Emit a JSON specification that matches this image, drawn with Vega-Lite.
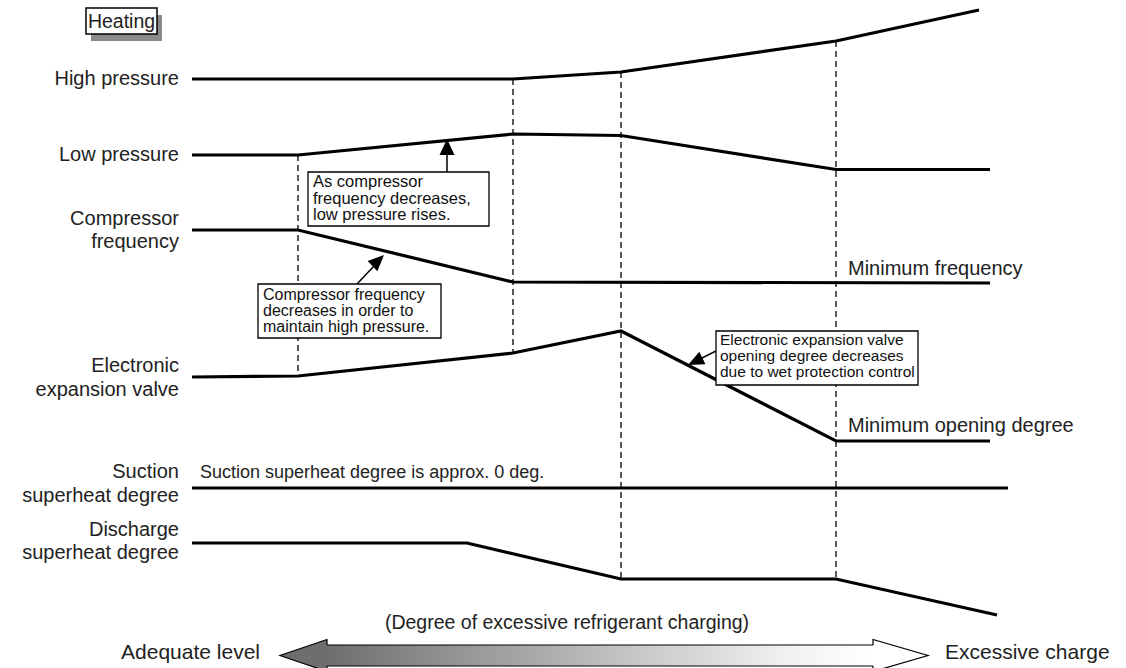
{
  "$schema": "https://vega.github.io/schema/vega-lite/v6.json",
  "width": 1126,
  "height": 668,
  "padding": 0,
  "autosize": {"type": "none"},
  "config": {"view": {"stroke": null}, "text": {"font": "Liberation Sans", "fontSize": 20, "color": "#222"}},
  "datasets": {
    "curves": [
      {"series": "High pressure", "order": 1, "x": 192, "y": 79},
      {"series": "High pressure", "order": 2, "x": 513, "y": 79},
      {"series": "High pressure", "order": 3, "x": 621, "y": 72},
      {"series": "High pressure", "order": 4, "x": 836, "y": 41},
      {"series": "High pressure", "order": 5, "x": 979, "y": 10},
      {"series": "Low pressure", "order": 1, "x": 192, "y": 155},
      {"series": "Low pressure", "order": 2, "x": 298, "y": 155},
      {"series": "Low pressure", "order": 3, "x": 513, "y": 134},
      {"series": "Low pressure", "order": 4, "x": 621, "y": 135.5},
      {"series": "Low pressure", "order": 5, "x": 836, "y": 169.5},
      {"series": "Low pressure", "order": 6, "x": 990, "y": 169.5},
      {"series": "Compressor frequency", "order": 1, "x": 192, "y": 230},
      {"series": "Compressor frequency", "order": 2, "x": 298, "y": 230},
      {"series": "Compressor frequency", "order": 3, "x": 513, "y": 282},
      {"series": "Compressor frequency", "order": 4, "x": 990, "y": 283},
      {"series": "Electronic expansion valve", "order": 1, "x": 192, "y": 377},
      {"series": "Electronic expansion valve", "order": 2, "x": 298, "y": 376},
      {"series": "Electronic expansion valve", "order": 3, "x": 513, "y": 353},
      {"series": "Electronic expansion valve", "order": 4, "x": 621, "y": 331},
      {"series": "Electronic expansion valve", "order": 5, "x": 836, "y": 441},
      {"series": "Electronic expansion valve", "order": 6, "x": 990, "y": 441},
      {"series": "Suction superheat degree", "order": 1, "x": 192, "y": 488},
      {"series": "Suction superheat degree", "order": 2, "x": 1008, "y": 488},
      {"series": "Discharge superheat degree", "order": 1, "x": 192, "y": 543},
      {"series": "Discharge superheat degree", "order": 2, "x": 467, "y": 543},
      {"series": "Discharge superheat degree", "order": 3, "x": 621, "y": 579},
      {"series": "Discharge superheat degree", "order": 4, "x": 836, "y": 579},
      {"series": "Discharge superheat degree", "order": 5, "x": 997, "y": 615}
    ],
    "dashes": [
      {"x": 298, "y": 155, "y2": 377},
      {"x": 513, "y": 79, "y2": 353},
      {"x": 621, "y": 72, "y2": 579},
      {"x": 836, "y": 41, "y2": 579}
    ],
    "rightLabels": [
      {"label": "High pressure", "x": 179, "y": 85},
      {"label": "Low pressure", "x": 179, "y": 161},
      {"label": "Compressor", "x": 179, "y": 225},
      {"label": "frequency", "x": 179, "y": 248},
      {"label": "Electronic", "x": 179, "y": 372},
      {"label": "expansion valve", "x": 179, "y": 396},
      {"label": "Suction", "x": 179, "y": 478},
      {"label": "superheat degree", "x": 179, "y": 502},
      {"label": "Discharge", "x": 179, "y": 536},
      {"label": "superheat degree", "x": 179, "y": 559}
    ],
    "leftLabels": [
      {"label": "Minimum frequency", "x": 848, "y": 275},
      {"label": "Minimum opening degree", "x": 848, "y": 432}
    ],
    "noteLabels": [
      {"label": "Suction superheat degree is approx. 0 deg.", "x": 200, "y": 478}
    ],
    "bottomLeft": [
      {"label": "Adequate level", "x": 260, "y": 659}
    ],
    "bottomRight": [
      {"label": "Excessive charge", "x": 945, "y": 659}
    ],
    "centerLabels": [
      {"label": "(Degree of excessive refrigerant charging)", "x": 567, "y": 629}
    ],
    "boxes": [
      {"box": "low pressure note", "x": 308, "x2": 489, "y": 172, "y2": 226},
      {"box": "frequency note", "x": 258, "x2": 441, "y": 284, "y2": 338},
      {"box": "valve note", "x": 716, "x2": 918, "y": 331, "y2": 385}
    ],
    "shafts": [
      {"arrow": "low pressure note", "x": 447, "y": 154, "x2": 447, "y2": 172},
      {"arrow": "frequency note", "x": 357, "y": 284, "x2": 374, "y2": 266},
      {"arrow": "valve note", "x": 716, "y": 351, "x2": 700, "y2": 359}
    ],
    "heating": [
      {"label": "Heating", "x": 86, "x2": 157, "y": 8, "y2": 34}
    ],
    "bigArrow": [
      {"x": 327, "x2": 873, "y": 645, "y2": 666}
    ],
    "bigArrowEdges": [
      {"x": 327, "x2": 873, "y": 645},
      {"x": 327, "x2": 873, "y": 666}
    ]
  },
  "encoding": {
    "x": {"field": "x", "type": "quantitative", "scale": {"domain": [0, 1126], "nice": false, "zero": false}, "axis": null},
    "y": {"field": "y", "type": "quantitative", "scale": {"domain": [0, 668], "nice": false, "zero": false, "reverse": true}, "axis": null}
  },
  "layer": [
    {
      "data": {"name": "heating"},
      "transform": [{"calculate": "datum.x + 5", "as": "sx"}, {"calculate": "datum.x2 + 5", "as": "sx2"}, {"calculate": "datum.y + 7", "as": "sy"}, {"calculate": "datum.y2 + 7", "as": "sy2"}],
      "mark": {"type": "rect", "fill": "#8a8a8a"},
      "encoding": {"x": {"field": "sx", "type": "quantitative"}, "x2": {"field": "sx2"}, "y": {"field": "sy", "type": "quantitative"}, "y2": {"field": "sy2"}}
    },
    {
      "data": {"name": "heating"},
      "mark": {"type": "rect", "fill": "white", "stroke": "black", "strokeWidth": 1.5},
      "encoding": {"x2": {"field": "x2"}, "y2": {"field": "y2"}}
    },
    {
      "data": {"name": "heating"},
      "mark": {"type": "text", "align": "center", "baseline": "middle", "color": "#222", "fontSize": 19.5, "dy": 1},
      "encoding": {"x": {"field": "x", "type": "quantitative"}, "text": {"field": "label"}},
      "transform": [{"calculate": "(datum.x + datum.x2) / 2", "as": "x"}, {"calculate": "(datum.y + datum.y2) / 2", "as": "y"}]
    },
    {
      "data": {"name": "dashes"},
      "mark": {"type": "rule", "color": "black", "strokeWidth": 1.3, "strokeDash": [6, 4]},
      "encoding": {"y2": {"field": "y2"}}
    },
    {
      "data": {"name": "curves"},
      "mark": {"type": "line", "color": "black", "strokeWidth": 3.2},
      "encoding": {"detail": {"field": "series"}, "order": {"field": "order", "type": "quantitative"}}
    },
    {
      "data": {"name": "boxes"},
      "mark": {"type": "rect", "fill": "white", "stroke": "black", "strokeWidth": 1.3},
      "encoding": {"x2": {"field": "x2"}, "y2": {"field": "y2"}}
    },
    {
      "data": {"name": "shafts"},
      "mark": {"type": "rule", "color": "black", "strokeWidth": 1.5},
      "encoding": {"x2": {"field": "x2"}, "y2": {"field": "y2"}}
    },
    {
      "data": {"values": [{"x": 447, "y": 139}]},
      "mark": {"type": "point", "shape": "M0,0L-0.75,1.6L0.75,1.6Z", "size": 400, "filled": true, "fill": "black", "opacity": 1, "strokeWidth": 0}
    },
    {
      "data": {"values": [{"x": 384, "y": 255}]},
      "mark": {"type": "point", "shape": "M0,0L-0.7,1.6L0.7,1.6Z", "size": 400, "angle": 46, "filled": true, "fill": "black", "opacity": 1, "strokeWidth": 0}
    },
    {
      "data": {"values": [{"x": 688, "y": 365}]},
      "mark": {"type": "point", "shape": "M0,0L-0.7,1.6L0.7,1.6Z", "size": 400, "angle": 244, "filled": true, "fill": "black", "opacity": 1, "strokeWidth": 0}
    },
    {
      "data": {"values": [{"lines": ["As compressor", "frequency decreases,", "low pressure rises."], "x": 313, "y": 187}]},
      "mark": {"type": "text", "align": "left", "baseline": "alphabetic", "fontSize": 16.5, "lineHeight": 16.5, "color": "#111"},
      "encoding": {"text": {"field": "lines"}}
    },
    {
      "data": {"values": [{"lines": ["Compressor frequency", "decreases in order to", "maintain high pressure."], "x": 263, "y": 300}]},
      "mark": {"type": "text", "align": "left", "baseline": "alphabetic", "fontSize": 16, "lineHeight": 16, "color": "#111"},
      "encoding": {"text": {"field": "lines"}}
    },
    {
      "data": {"values": [{"lines": ["Electronic expansion valve", "opening degree decreases", "due to wet protection control"], "x": 720, "y": 345}]},
      "mark": {"type": "text", "align": "left", "baseline": "alphabetic", "fontSize": 15.5, "lineHeight": 15.8, "color": "#111"},
      "encoding": {"text": {"field": "lines"}}
    },
    {
      "data": {"name": "rightLabels"},
      "mark": {"type": "text", "align": "right", "baseline": "alphabetic"},
      "encoding": {"text": {"field": "label"}}
    },
    {
      "data": {"name": "leftLabels"},
      "mark": {"type": "text", "align": "left", "baseline": "alphabetic"},
      "encoding": {"text": {"field": "label"}}
    },
    {
      "data": {"name": "noteLabels"},
      "mark": {"type": "text", "align": "left", "baseline": "alphabetic", "fontSize": 18},
      "encoding": {"text": {"field": "label"}}
    },
    {
      "data": {"name": "bottomLeft"},
      "mark": {"type": "text", "align": "right", "baseline": "alphabetic", "fontSize": 21},
      "encoding": {"text": {"field": "label"}}
    },
    {
      "data": {"name": "bottomRight"},
      "mark": {"type": "text", "align": "left", "baseline": "alphabetic", "fontSize": 21},
      "encoding": {"text": {"field": "label"}}
    },
    {
      "data": {"name": "centerLabels"},
      "mark": {"type": "text", "align": "center", "baseline": "alphabetic", "fontSize": 19.5},
      "encoding": {"text": {"field": "label"}}
    },
    {
      "data": {"name": "bigArrow"},
      "mark": {"type": "rect", "strokeWidth": 0, "fill": {"gradient": "linear", "x1": 0, "x2": 1, "y1": 0, "y2": 0, "stops": [{"offset": 0, "color": "#6e6e6e"}, {"offset": 0.45, "color": "#b5b5b5"}, {"offset": 0.85, "color": "#f2f2f2"}, {"offset": 1, "color": "#ffffff"}]}},
      "encoding": {"x2": {"field": "x2"}, "y2": {"field": "y2"}}
    },
    {
      "data": {"name": "bigArrowEdges"},
      "mark": {"type": "rule", "color": "black", "strokeWidth": 1.2},
      "encoding": {"x2": {"field": "x2"}}
    },
    {
      "data": {"values": [{"x": 280, "y": 655.5}]},
      "mark": {"type": "point", "shape": "M4.7,-1.05L4.7,-1.6L0,0L4.7,1.6L4.7,1.05", "size": 400, "filled": true, "fill": "#6e6e6e", "stroke": "black", "strokeWidth": 1.2, "opacity": 1, "fillOpacity": 1, "strokeOpacity": 1}
    },
    {
      "data": {"values": [{"x": 928, "y": 655.5}]},
      "mark": {"type": "point", "shape": "M-5.5,-1.05L-5.5,-1.6L0,0L-5.5,1.6L-5.5,1.05", "size": 400, "filled": true, "fill": "white", "stroke": "black", "strokeWidth": 1.2, "opacity": 1, "fillOpacity": 1, "strokeOpacity": 1}
    }
  ]
}
